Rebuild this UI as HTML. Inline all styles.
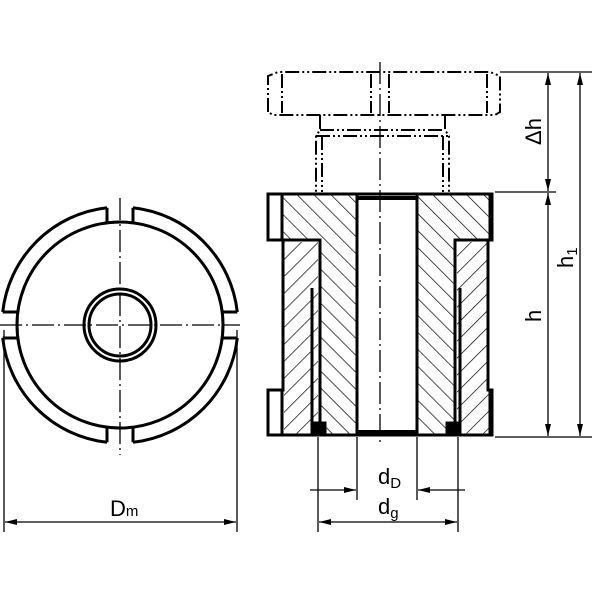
<!DOCTYPE html>
<html><head><style>body{margin:0;background:#fff}svg{display:block}</style></head><body>
<svg width="600" height="600" viewBox="0 0 600 600" xmlns="http://www.w3.org/2000/svg" font-family="Liberation Sans, sans-serif">
<defs>
<pattern id="hA" patternUnits="userSpaceOnUse" width="12" height="12" patternTransform="rotate(45)"><line x1="0" y1="0" x2="0" y2="12" stroke="#000" stroke-width="1.4"/></pattern>
<pattern id="hB" patternUnits="userSpaceOnUse" width="12" height="12" patternTransform="rotate(-45)"><line x1="0" y1="0" x2="0" y2="12" stroke="#000" stroke-width="1.4"/></pattern>
<marker id="ar" markerWidth="12" markerHeight="8" refX="12" refY="4" orient="auto" markerUnits="userSpaceOnUse"><path d="M0,1 L12,4 L0,7 z" fill="#000"/></marker>
</defs>
<g fill="none" stroke="#000">
<!-- LEFT VIEW -->
<path stroke-width="3" d="M107,207.7 A118,118 0 0 0 2.7,312 M2.7,338 A118,118 0 0 0 107,442.3 M133,442.3 A118,118 0 0 0 237.3,338 M237.3,312 A118,118 0 0 0 133,207.7"/>
<path stroke-width="3" d="M107,207.7 V222 M133,207.7 V222 M107,442.3 V428 M133,442.3 V428 M2.7,312 H17 M2.7,338 H17 M237.3,312 H223 M237.3,338 H223"/>
<circle cx="120" cy="325" r="103" stroke-width="3"/>
<circle cx="120" cy="325" r="36" stroke-width="3"/>
<circle cx="120" cy="325" r="31" stroke-width="3"/>
<path stroke-width="1.3" stroke-dasharray="22,4,2,4" d="M120,198 V455 M0,325 H240"/>
<path stroke-width="1.3" d="M4,330 V532 M237,330 V532"/>
<line x1="120" y1="522" x2="5" y2="522" stroke-width="1.3" marker-end="url(#ar)"/>
<line x1="120" y1="522" x2="236" y2="522" stroke-width="1.3" marker-end="url(#ar)"/>

<!-- RIGHT VIEW: phantom knob -->
<g stroke-width="2" stroke-dasharray="14,3,2,3,2,3">
<path d="M268,112 V76 L278,72 H490 L500,76 V112 L495,115 H273 Z"/>
<path d="M282,74 V113 M371,74 V113 M389,74 V113 M487,74 V113"/>
<path d="M320,115 V130 L316,136 V192 M445,115 V130 L449,136 V192 M320,130 H445 M316,136 H449 M322,136 V192 M443,136 V192"/>
</g>
<path stroke-width="1.3" stroke-dasharray="22,4,2,4" d="M380,62 V445"/>

<!-- hatched body -->
<path fill="url(#hB)" stroke="none" d="M282,194 H357 V435 H320 V240 H282 Z"/>
<path fill="url(#hB)" stroke="none" d="M417,194 H490 V240 H455 V435 H417 Z"/>
<path fill="url(#hA)" stroke="none" d="M284,242 H318 V435 H284 Z"/>
<path fill="url(#hA)" stroke="none" d="M457,242 H489 V435 H457 Z"/>
<g stroke-width="3">
<path d="M268,194 H492 V240 H488 V390 H492 V435 H268 V390 H283 V240 H268 Z"/>
<path d="M282,194 V240 M490,194 V240 M282,390 V435 M490,390 V435"/>
<path d="M357,194 V435 M417,194 V435"/>
<path d="M283,240 H320 V435 M488,240 H455 V435"/>
<path d="M312,288 V435 M460,288 V435"/>
<path stroke-width="4" d="M357,198 H417 M357,432 H417"/>
</g>
<rect x="312" y="422" width="14" height="12" fill="#000"/>
<rect x="446" y="422" width="14" height="12" fill="#000"/>

<!-- dimensions right -->
<g stroke-width="1.3">
<path d="M500,72 H592 M495,192 H556 M495,437 H592"/>
<line x1="548" y1="130" x2="548" y2="73" marker-end="url(#ar)"/>
<line x1="548" y1="130" x2="548" y2="191" marker-end="url(#ar)"/>
<line x1="548" y1="300" x2="548" y2="193" marker-end="url(#ar)"/>
<line x1="548" y1="300" x2="548" y2="436" marker-end="url(#ar)"/>
<line x1="580" y1="250" x2="580" y2="73" marker-end="url(#ar)"/>
<line x1="580" y1="250" x2="580" y2="436" marker-end="url(#ar)"/>
<path d="M357,437 V500 M417,437 V500 M318,437 V532 M458,437 V532"/>
<line x1="310" y1="490" x2="356" y2="490" marker-end="url(#ar)"/>
<line x1="465" y1="490" x2="418" y2="490" marker-end="url(#ar)"/>
<line x1="380" y1="522" x2="319" y2="522" marker-end="url(#ar)"/>
<line x1="380" y1="522" x2="457" y2="522" marker-end="url(#ar)"/>
</g>
</g>
<g font-size="22" fill="#000">
<text x="110" y="516">D<tspan font-size="15">m</tspan></text>
<text x="378" y="484">d<tspan font-size="15" dy="4">D</tspan></text>
<text x="378" y="514">d<tspan font-size="15" dy="4">g</tspan></text>
<text transform="translate(541,145) rotate(-90)">Δh</text>
<text transform="translate(541,322) rotate(-90)">h</text>
<text transform="translate(573,268) rotate(-90)">h<tspan font-size="15" dy="4">1</tspan></text>
</g>
</svg>
</body></html>
